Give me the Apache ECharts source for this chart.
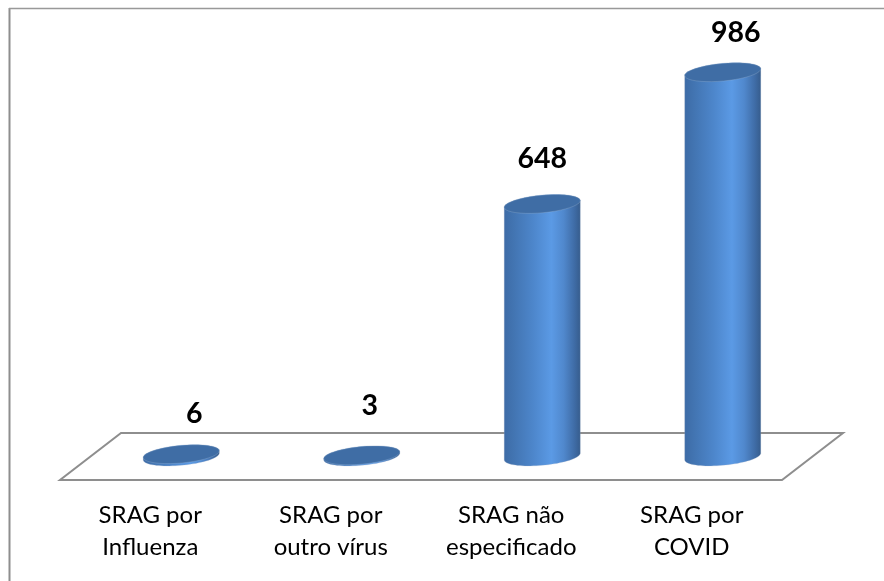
<!DOCTYPE html>
<html>
<head>
<meta charset="utf-8">
<style>html,body{margin:0;padding:0;background:#fff}#c{width:884px;height:581px}</style>
<script src="https://cdn.jsdelivr.net/npm/echarts@6/dist/echarts.min.js"></script>
</head>
<body>
<div id="c"></div>
<script>
const categories = ['SRAG por\nInfluenza', 'SRAG por\noutro vírus', 'SRAG não\nespecificado', 'SRAG por\nCOVID'];
const values = [6, 3, 648, 986];
const labelNudgeX = [13, 8, 0, 13];
const labelNudgeY = [-40, -50, -45, -39];

const FONT = 'Lato, Carlito, Calibri, sans-serif';
const DEPTH_X = 31, DEPTH_Y = -23.5;
const FLOOR_DX = 61, FLOOR_DY = -47;
const A = 38.2, B = 8.8, TILT = -5.3 * Math.PI / 180;

function ellipsePoint(cx, cy, t) {
  const x = A * Math.cos(t), y = B * Math.sin(t);
  return [cx + x * Math.cos(TILT) - y * Math.sin(TILT), cy + x * Math.sin(TILT) + y * Math.cos(TILT)];
}
function arcPoints(cx, cy, from, to) {
  const out = [];
  for (let i = 0; i <= 40; i++) out.push(ellipsePoint(cx, cy, from + (to - from) * i / 40));
  return out;
}
const bodyFill = {
  type: 'linear', x: 0, y: 0, x2: 1, y2: 0,
  colorStops: [
    {offset: 0, color: '#3d6ba6'},
    {offset: 0.12, color: '#4274b1'},
    {offset: 0.38, color: '#4d86cb'},
    {offset: 0.62, color: '#5b9ae5'},
    {offset: 0.78, color: '#5088cd'},
    {offset: 0.92, color: '#3f6ca6'},
    {offset: 1, color: '#365c8c'}
  ]
};

const option = {
  animation: false,
  backgroundColor: '#fff',
  grid: {left: 60, right: 102, top: 12.3, bottom: 101},
  xAxis: {
    type: 'category', data: categories,
    axisLine: {show: false}, axisTick: {show: false}, splitLine: {show: false},
    axisLabel: {interval: 0, color: '#000', fontFamily: FONT, fontSize: 24, lineHeight: 32, margin: 19}
  },
  yAxis: {type: 'value', min: 0, max: 1200, show: false},
  graphic: [{
    type: 'line', silent: true, z: -1,
    shape: {x1: 9.5, y1: 8, x2: 9.5, y2: 581},
    style: {stroke: '#8e8e8e', lineWidth: 2}
  }, {
    type: 'line', silent: true, z: -1,
    shape: {x1: 9, y1: 8.5, x2: 884, y2: 8.5},
    style: {stroke: '#999', lineWidth: 1.4}
  }],
  series: [{
    type: 'custom', coordinateSystem: 'cartesian2d', z: 1, silent: true,
    data: [0],
    encode: {x: -1, y: -1},
    renderItem: function (params, api) {
      const s = params.coordSys;
      const bx = s.x, by = s.y + s.height;
      return {
        type: 'polygon',
        shape: {points: [[bx, by], [bx + s.width, by], [bx + s.width + FLOOR_DX, by + FLOOR_DY], [bx + FLOOR_DX, by + FLOOR_DY]]},
        style: {fill: '#fff', stroke: '#8e8e8e', lineWidth: 2}
      };
    }
  }, {
    type: 'custom', coordinateSystem: 'cartesian2d', z: 2, silent: true,
    data: values.map((v, i) => [i, v]),
    encode: {x: 0, y: 1},
    renderItem: function (params, api) {
      const i = api.value(0), v = api.value(1);
      const base = api.coord([i, 0]), top = api.coord([i, v]);
      const cx = base[0] + DEPTH_X, by = base[1] + DEPTH_Y, ty = top[1] + DEPTH_Y;
      const tA = Math.atan2(Math.tan(TILT) * -B, A);
      const lower = arcPoints(cx, by, tA, tA + Math.PI);
      const upper = arcPoints(cx, ty, tA + Math.PI, tA + 2 * Math.PI);
      const tt = arcPoints(cx, ty, 0, 2 * Math.PI);
      return {
        type: 'group',
        children: [{
          type: 'polygon',
          shape: {points: lower.concat(upper)},
          style: {fill: bodyFill, stroke: 'rgba(170,185,205,0.5)', lineWidth: 0.5}
        }, {
          type: 'polygon',
          shape: {points: tt},
          style: {fill: '#3f6da5', stroke: 'rgba(180,198,220,0.5)', lineWidth: 0.5}
        }, {
          type: 'text',
          style: {
            text: String(v), x: cx + labelNudgeX[params.dataIndex], y: ty + labelNudgeY[params.dataIndex],
            align: 'center', verticalAlign: 'middle',
            font: 'bold 28.5px ' + FONT, fill: '#000'
          }
        }]
      };
    }
  }]
};
echarts.init(document.getElementById('c')).setOption(option);
</script>
</body>
</html>
